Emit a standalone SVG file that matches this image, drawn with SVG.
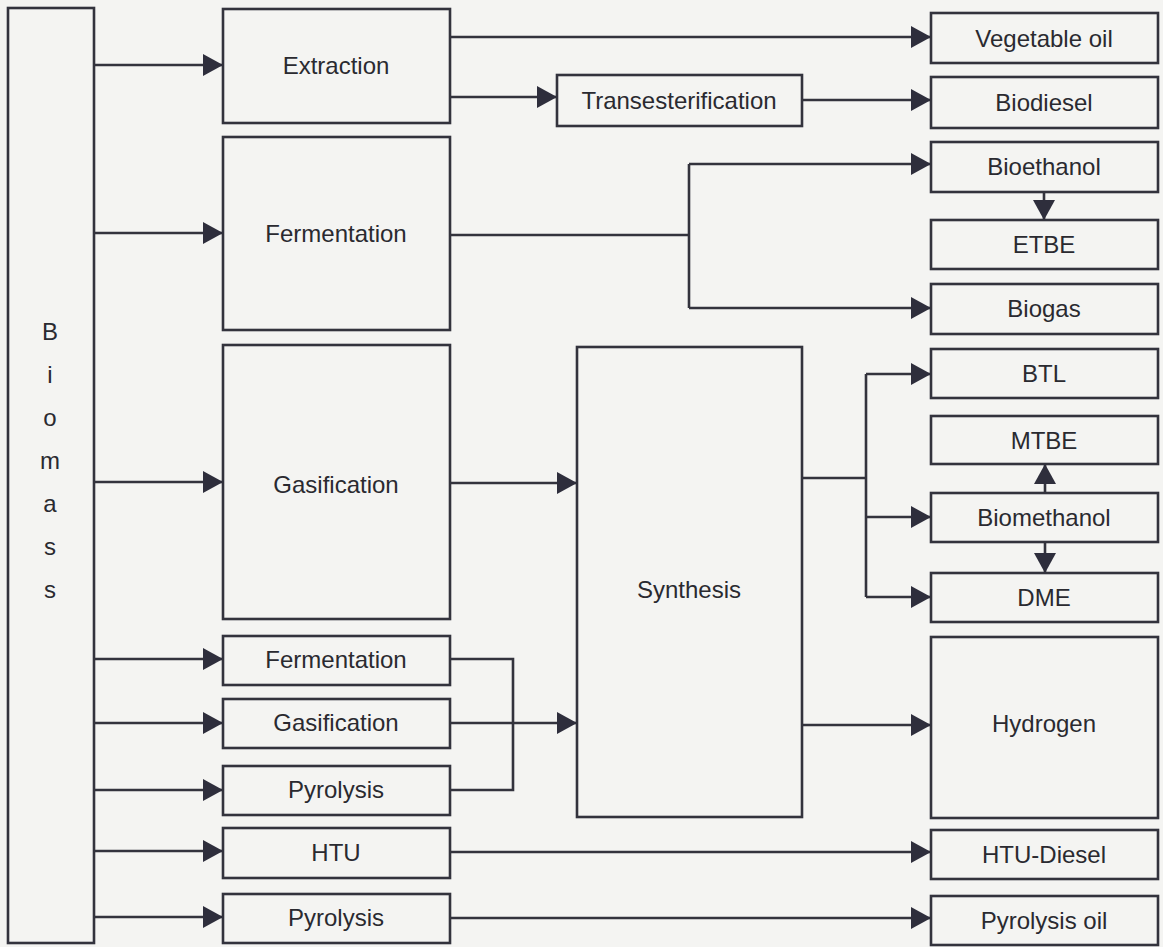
<svg xmlns="http://www.w3.org/2000/svg" width="1163" height="947" viewBox="0 0 1163 947">
  <style>
    .box { fill: none; stroke: #33333d; stroke-width: 2.6; }
    .lbl { font-family: "Liberation Sans", Arial, sans-serif; font-size: 24px; fill: #2a2a30; text-anchor: middle; }
    .ln { fill: none; stroke: #33333d; stroke-width: 2.6; }
  </style>
  <defs>
    <marker id="arr" markerUnits="userSpaceOnUse" markerWidth="20" markerHeight="22" refX="20" refY="11" orient="auto">
      <path d="M0,0 L20,11 L0,22 Z" fill="#2e2e3c"/>
    </marker>
  </defs>
  <rect x="0" y="0" width="1163" height="947" fill="#f4f4f2"/>

  <!-- source -->
  <g id="biomass">
    <rect class="box" x="8" y="8" width="86" height="935"/>
    <text class="lbl" x="50" y="340">B</text>
    <text class="lbl" x="50" y="383">i</text>
    <text class="lbl" x="50" y="426">o</text>
    <text class="lbl" x="50" y="469">m</text>
    <text class="lbl" x="50" y="512">a</text>
    <text class="lbl" x="50" y="555">s</text>
    <text class="lbl" x="50" y="598">s</text>
  </g>

  <!-- conversion processes -->
  <g id="extraction"><rect class="box" x="223" y="9" width="227" height="114"/><text class="lbl" x="336" y="74">Extraction</text></g>
  <g id="fermentation"><rect class="box" x="223" y="137" width="227" height="193"/><text class="lbl" x="336" y="242">Fermentation</text></g>
  <g id="gasification"><rect class="box" x="223" y="345" width="227" height="274"/><text class="lbl" x="336" y="493">Gasification</text></g>
  <g id="fermentation2"><rect class="box" x="223" y="636" width="227" height="49"/><text class="lbl" x="336" y="668">Fermentation</text></g>
  <g id="gasification2"><rect class="box" x="223" y="699" width="227" height="49"/><text class="lbl" x="336" y="731">Gasification</text></g>
  <g id="pyrolysis2"><rect class="box" x="223" y="766" width="227" height="49"/><text class="lbl" x="336" y="798">Pyrolysis</text></g>
  <g id="htu"><rect class="box" x="223" y="828" width="227" height="50"/><text class="lbl" x="336" y="861">HTU</text></g>
  <g id="pyrolysis3"><rect class="box" x="223" y="894" width="227" height="49"/><text class="lbl" x="336" y="926">Pyrolysis</text></g>

  <!-- intermediate steps -->
  <g id="transesterification"><rect class="box" x="557" y="75" width="245" height="51"/><text class="lbl" x="679" y="109">Transesterification</text></g>
  <g id="synthesis"><rect class="box" x="577" y="347" width="225" height="470"/><text class="lbl" x="689" y="598">Synthesis</text></g>

  <!-- products -->
  <g id="vegetable-oil"><rect class="box" x="931" y="13" width="227" height="50"/><text class="lbl" x="1044" y="47">Vegetable oil</text></g>
  <g id="biodiesel"><rect class="box" x="931" y="77" width="227" height="51"/><text class="lbl" x="1044" y="111">Biodiesel</text></g>
  <g id="bioethanol"><rect class="box" x="931" y="142" width="227" height="50"/><text class="lbl" x="1044" y="175">Bioethanol</text></g>
  <g id="etbe"><rect class="box" x="931" y="220" width="227" height="49"/><text class="lbl" x="1044" y="253">ETBE</text></g>
  <g id="biogas"><rect class="box" x="931" y="284" width="227" height="50"/><text class="lbl" x="1044" y="317">Biogas</text></g>
  <g id="btl"><rect class="box" x="931" y="349" width="227" height="49"/><text class="lbl" x="1044" y="382">BTL</text></g>
  <g id="mtbe"><rect class="box" x="931" y="416" width="227" height="48"/><text class="lbl" x="1044" y="449">MTBE</text></g>
  <g id="biomethanol"><rect class="box" x="931" y="493" width="227" height="49"/><text class="lbl" x="1044" y="526">Biomethanol</text></g>
  <g id="dme"><rect class="box" x="931" y="573" width="227" height="49"/><text class="lbl" x="1044" y="606">DME</text></g>
  <g id="hydrogen"><rect class="box" x="931" y="637" width="227" height="181"/><text class="lbl" x="1044" y="732">Hydrogen</text></g>
  <g id="htu-diesel"><rect class="box" x="931" y="830" width="227" height="49"/><text class="lbl" x="1044" y="863">HTU-Diesel</text></g>
  <g id="pyrolysis-oil"><rect class="box" x="931" y="896" width="227" height="49"/><text class="lbl" x="1044" y="929">Pyrolysis oil</text></g>

  <g id="connectors">
    <!-- biomass feeds -->
    <path class="ln" d="M94,65 H223" marker-end="url(#arr)"/>
    <path class="ln" d="M94,233 H223" marker-end="url(#arr)"/>
    <path class="ln" d="M94,482 H223" marker-end="url(#arr)"/>
    <path class="ln" d="M94,659 H223" marker-end="url(#arr)"/>
    <path class="ln" d="M94,723 H223" marker-end="url(#arr)"/>
    <path class="ln" d="M94,790 H223" marker-end="url(#arr)"/>
    <path class="ln" d="M94,851 H223" marker-end="url(#arr)"/>
    <path class="ln" d="M94,917 H223" marker-end="url(#arr)"/>
    <!-- extraction -->
    <path class="ln" d="M450,37 H931" marker-end="url(#arr)"/>
    <path class="ln" d="M450,97 H557" marker-end="url(#arr)"/>
    <path class="ln" d="M802,100 H931" marker-end="url(#arr)"/>
    <!-- fermentation -->
    <path class="ln" d="M450,235 H689"/>
    <path class="ln" d="M689,164 V308"/>
    <path class="ln" d="M689,164 H931" marker-end="url(#arr)"/>
    <path class="ln" d="M689,308 H931" marker-end="url(#arr)"/>
    <path class="ln" d="M1044,192 V220" marker-end="url(#arr)"/>
    <!-- gasification and synthesis -->
    <path class="ln" d="M450,483 H577" marker-end="url(#arr)"/>
    <path class="ln" d="M450,659 H513 V790 H450"/>
    <path class="ln" d="M450,723 H577" marker-end="url(#arr)"/>
    <path class="ln" d="M802,478 H866"/>
    <path class="ln" d="M866,374 V597"/>
    <path class="ln" d="M866,374 H931" marker-end="url(#arr)"/>
    <path class="ln" d="M866,517 H931" marker-end="url(#arr)"/>
    <path class="ln" d="M866,597 H931" marker-end="url(#arr)"/>
    <path class="ln" d="M1045,493 V464" marker-end="url(#arr)"/>
    <path class="ln" d="M1045,542 V573" marker-end="url(#arr)"/>
    <path class="ln" d="M802,725 H931" marker-end="url(#arr)"/>
    <!-- direct routes -->
    <path class="ln" d="M450,852 H931" marker-end="url(#arr)"/>
    <path class="ln" d="M450,918 H931" marker-end="url(#arr)"/>
  </g>
</svg>
